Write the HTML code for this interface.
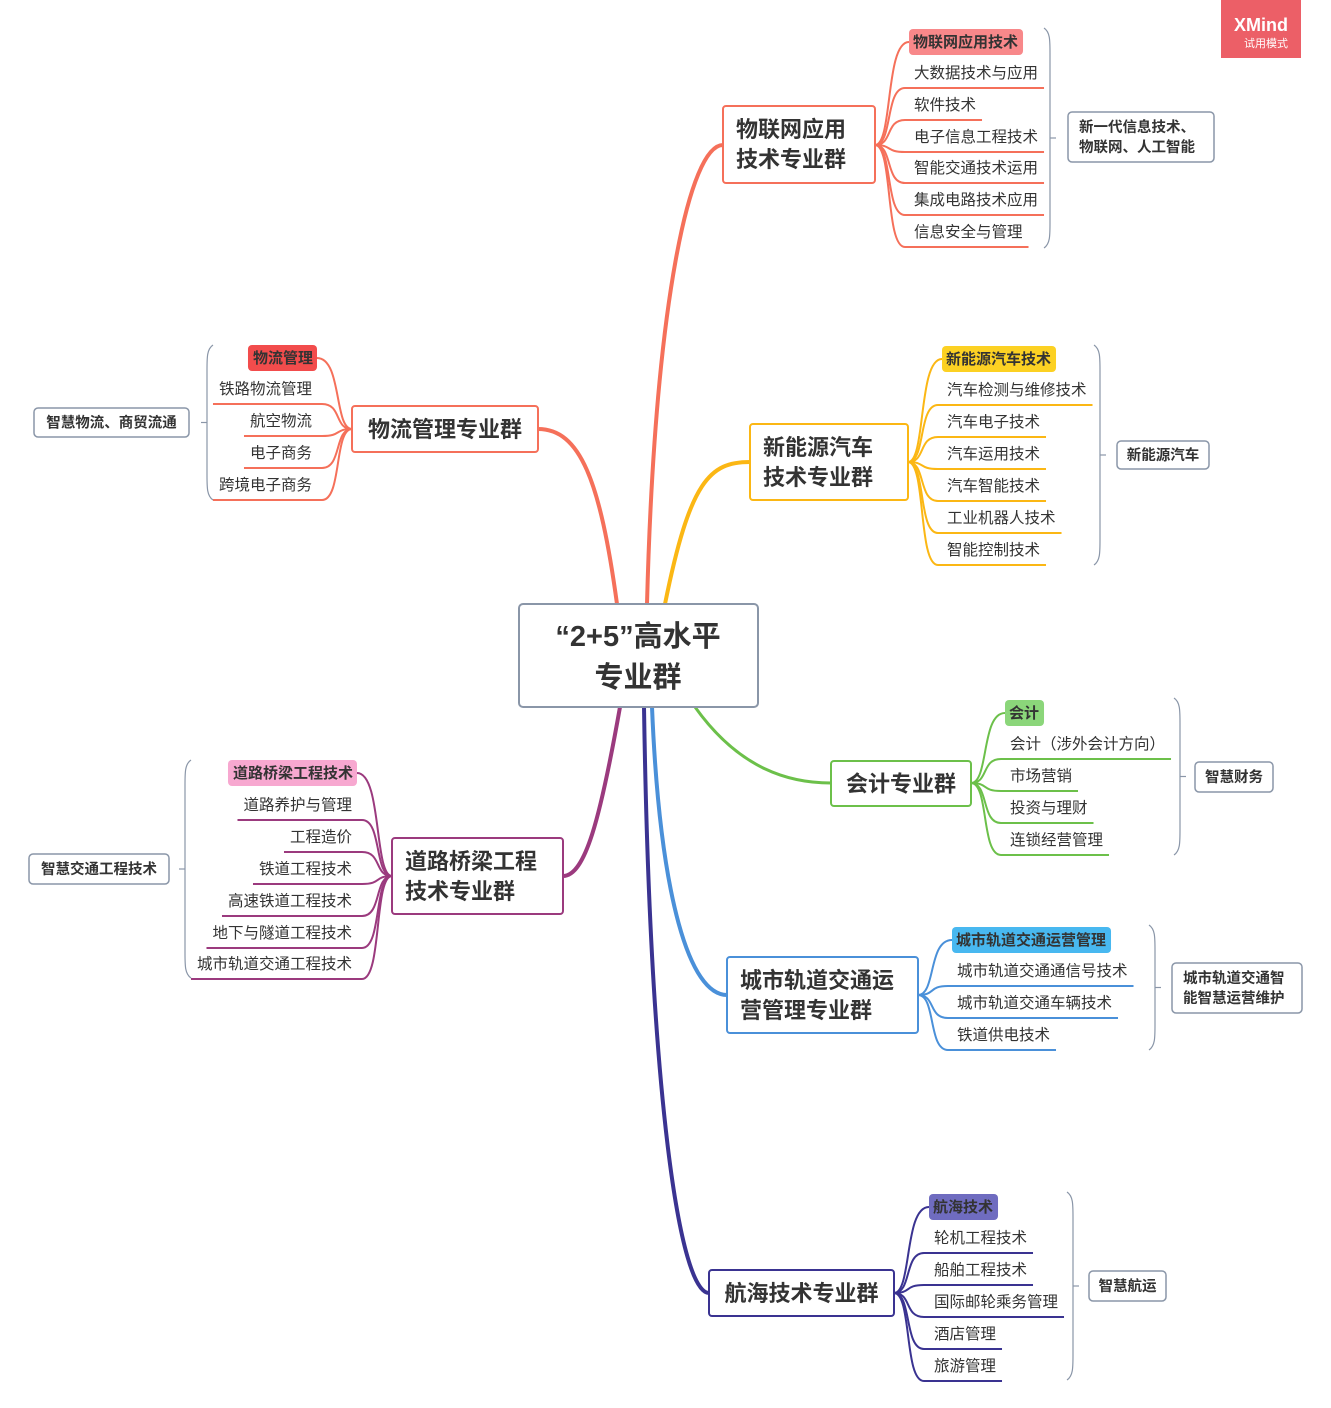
<!DOCTYPE html>
<html><head><meta charset="utf-8">
<style>
html,body{margin:0;padding:0;background:#fff;}
svg{display:block;font-family:"Liberation Sans","Noto Sans CJK SC",sans-serif;}
</style></head>
<body>
<svg id="s" width="1331" height="1408" viewBox="0 0 1331 1408" xmlns="http://www.w3.org/2000/svg">
<rect x="0" y="0" width="1331" height="1408" fill="#fff"/>
<!-- XMind badge -->
<rect x="1221" y="0" width="80" height="58" fill="#ec5f67"/>
<text x="1261" y="31" text-anchor="middle" fill="#fff" font-size="18" font-weight="bold">XMind</text>
<text x="1266" y="47" text-anchor="middle" fill="#fff" font-size="11">试用模式</text>

<!-- main connectors -->
<g fill="none" stroke-linecap="round">
<path d="M647,604 C655,300 690,145 723,145" stroke="#f5705a" stroke-width="4"/>
<path d="M617,604 C600,480 580,429 538,429" stroke="#f5705a" stroke-width="4"/>
<path d="M665,604 C690,480 710,462 750,462" stroke="#fbb714" stroke-width="4"/>
<path d="M695,707 C740,770 790,783 831,783" stroke="#6cc04a" stroke-width="3"/>
<path d="M652,707 C660,900 690,995 727,995" stroke="#4a90d9" stroke-width="4"/>
<path d="M644,707 C650,1100 680,1293 709,1293" stroke="#3a3391" stroke-width="4"/>
<path d="M620,707 C600,820 585,876 563,876" stroke="#9b3a7e" stroke-width="4"/>
</g>

<!-- center -->
<rect x="519" y="604" width="239" height="103" rx="4" fill="#fff" stroke="#8a96a8" stroke-width="2"/>
<text x="638" y="646" text-anchor="middle" font-size="29" font-weight="bold" fill="#333">“2+5”高水平</text>
<text x="638" y="687" text-anchor="middle" font-size="29" font-weight="bold" fill="#333">专业群</text>

<g id="dyn"></g>
</svg>
<script>
var NS="http://www.w3.org/2000/svg";
var g=document.getElementById('dyn');
function el(t,a,txt){var e=document.createElementNS(NS,t);for(var k in a)e.setAttribute(k,a[k]);if(txt!==undefined)e.textContent=txt;g.appendChild(e);return e;}
var B=[
 {c:"#f5705a",box:[723,106,152,77],lines:["物联网应用","技术专业群"],d:1,px:875,py:145,tx:914,
  hl:{t:"物联网应用技术",bg:"#f8888a",y:42},items:[["大数据技术与应用",73],["软件技术",105],["电子信息工程技术",137],["智能交通技术运用",168],["集成电路技术应用",200],["信息安全与管理",232]],
  br:[1050,28,248],sum:[1068,112,146,50,["新一代信息技术、","物联网、人工智能"]]},
 {c:"#f5705a",box:[352,406,186,46],lines:["物流管理专业群"],d:-1,px:352,py:429,tx:312,
  hl:{t:"物流管理",bg:"#f24c4c",y:358},items:[["铁路物流管理",389],["航空物流",421],["电子商务",453],["跨境电子商务",485]],
  br:[207,345,500],sum:[34,408,155,29,["智慧物流、商贸流通"]]},
 {c:"#fbb714",box:[750,424,158,76],lines:["新能源汽车","技术专业群"],d:1,px:908,py:462,tx:947,
  hl:{t:"新能源汽车技术",bg:"#fcd123",y:359},items:[["汽车检测与维修技术",390],["汽车电子技术",422],["汽车运用技术",454],["汽车智能技术",486],["工业机器人技术",518],["智能控制技术",550]],
  br:[1100,345,565],sum:[1117,441,92,28,["新能源汽车"]]},
 {c:"#6cc04a",box:[831,761,140,45],lines:["会计专业群"],d:1,px:971,py:783,tx:1010,
  hl:{t:"会计",bg:"#8bd67a",y:713},items:[["会计（涉外会计方向）",744],["市场营销",776],["投资与理财",808],["连锁经营管理",840]],
  br:[1180,698,855],sum:[1195,762,78,30,["智慧财务"]]},
 {c:"#4a90d9",box:[727,957,191,76],lines:["城市轨道交通运","营管理专业群"],d:1,px:918,py:995,tx:957,
  hl:{t:"城市轨道交通运营管理",bg:"#48b8f0",y:940},items:[["城市轨道交通通信号技术",971],["城市轨道交通车辆技术",1003],["铁道供电技术",1035]],
  br:[1155,925,1050],sum:[1172,963,130,50,["城市轨道交通智","能智慧运营维护"]]},
 {c:"#3a3391",box:[709,1270,185,46],lines:["航海技术专业群"],d:1,px:894,py:1293,tx:934,
  hl:{t:"航海技术",bg:"#6f6cc0",y:1207},items:[["轮机工程技术",1238],["船舶工程技术",1270],["国际邮轮乘务管理",1302],["酒店管理",1334],["旅游管理",1366]],
  br:[1073,1192,1380],sum:[1089,1271,77,30,["智慧航运"]]},
 {c:"#9b3a7e",box:[392,838,171,76],lines:["道路桥梁工程","技术专业群"],d:-1,px:392,py:876,tx:352,
  hl:{t:"道路桥梁工程技术",bg:"#f7a8d0",y:773},items:[["道路养护与管理",805],["工程造价",837],["铁道工程技术",869],["高速铁道工程技术",901],["地下与隧道工程技术",933],["城市轨道交通工程技术",964]],
  br:[185,760,978],sum:[29,854,140,30,["智慧交通工程技术"]]}
];
B.forEach(function(b){
  var d=b.d, px=b.px, py=b.py, anchor=d>0?"start":"end";
  // highlight
  var ht=el('text',{x:b.tx-d*1,y:b.hl.y+5,'font-size':15,'font-weight':'bold',fill:'#333','text-anchor':anchor},b.hl.t);
  var w=ht.getComputedTextLength();
  var hx=d>0?b.tx-5:b.tx-w-4;
  var hr=el('rect',{x:hx,y:b.hl.y-13,width:w+9,height:26,rx:4,fill:b.hl.bg});
  g.insertBefore(hr,ht);
  var hEdge=d>0?hx:hx+w+9;
  el('path',{d:"M"+px+","+py+" C"+(px+d*18)+","+py+" "+(px+d*10)+","+b.hl.y+" "+hEdge+","+b.hl.y,fill:'none',stroke:b.c,'stroke-width':2});
  b.items.forEach(function(it){
    var t=el('text',{x:b.tx,y:it[1]+5,'font-size':15.5,fill:'#333','text-anchor':anchor},it[0]);
    var tw=t.getComputedTextLength();
    var yu=it[1]+15;
    var sx=b.tx-d*8;
    var ex=d>0?b.tx+tw+6:b.tx-tw-6;
    el('path',{d:"M"+px+","+py+" C"+(px+d*18)+","+py+" "+(px+d*10)+","+yu+" "+(px+d*30)+","+yu+" L"+ex+","+yu,fill:'none',stroke:b.c,'stroke-width':2});
  });
  // main box
  var bx=b.box;
  el('rect',{x:bx[0],y:bx[1],width:bx[2],height:bx[3],rx:3,fill:'#fff',stroke:b.c,'stroke-width':2});
  var cx=bx[0]+13;
  if(b.lines.length==1){
    el('text',{x:bx[0]+bx[2]/2,y:bx[1]+bx[3]/2+8,'text-anchor':'middle','font-size':22,'font-weight':'bold',fill:'#333'},b.lines[0]);
  }else{
    el('text',{x:cx,y:bx[1]+31,'font-size':22,'font-weight':'bold',fill:'#333'},b.lines[0]);
    el('text',{x:cx,y:bx[1]+61,'font-size':22,'font-weight':'bold',fill:'#333'},b.lines[1]);
  }
  // bracket
  var x=b.br[0],t=b.br[1],bo=b.br[2],m=(t+bo)/2,k=d>0?1:-1,sgn=d;
  var p="M"+(x-sgn*6)+","+t+" C"+(x)+","+(t+4)+" "+x+","+(t+12)+" "+x+","+(t+25)+" L"+x+","+(bo-25)+" C"+x+","+(bo-12)+" "+x+","+(bo-4)+" "+(x-sgn*6)+","+bo;
  el('path',{d:p,fill:'none',stroke:'#8a96a8','stroke-width':1.2});
  var s=b.sum;
  var sEdge=d>0?s[0]:s[0]+s[2];
  el('line',{x1:x,y1:m,x2:x+sgn*6,y2:m,stroke:'#8a96a8','stroke-width':1.2});
  el('rect',{x:s[0],y:s[1],width:s[2],height:s[3],rx:4,fill:'#fff',stroke:'#8a96a8','stroke-width':1.5});
  if(s[4].length==1){
    el('text',{x:s[0]+s[2]/2,y:s[1]+s[3]/2+5,'text-anchor':'middle','font-size':14.5,'font-weight':'bold',fill:'#333'},s[4][0]);
  }else{
    el('text',{x:s[0]+11,y:s[1]+20,'font-size':14.5,'font-weight':'bold',fill:'#333'},s[4][0]);
    el('text',{x:s[0]+11,y:s[1]+40,'font-size':14.5,'font-weight':'bold',fill:'#333'},s[4][1]);
  }
});
</script>
</body></html>
